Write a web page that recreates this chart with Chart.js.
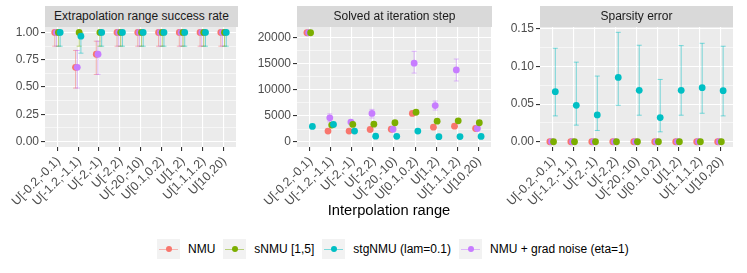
<!DOCTYPE html>
<html>
<head>
<meta charset="utf-8">
<script src="https://cdn.jsdelivr.net/npm/chart.js@4.4.1/dist/chart.umd.min.js"></script>
<style>
  body { margin: 0; width: 747px; height: 273px; background: #fff; position: relative; overflow: hidden;
         font-family: "Liberation Sans", Arial, sans-serif; }
  .strip { position: absolute; top: 6px; height: 21px; background: #d9d9d9; color: #1a1a1a;
           font-size: 12px; line-height: 21px; text-align: center; z-index: 2; }
  canvas { position: absolute; top: 15px; }
  #xtitle { position: absolute; left: 45px; width: 688px; top: 202px; text-align: center; font-size: 14.7px; color: #000; }
  #legend { position: absolute; top: 239px; left: 157px; height: 20px; display: flex; align-items: center;
            font-size: 12px; color: #000; white-space: nowrap; }
  .key { width: 23px; height: 20px; background: #f2f2f2; position: relative; margin-right: 8px; }
  .key .ln { position: absolute; left: 2px; right: 2px; top: 9.5px; height: 1px; opacity: 0.5; }
  .key .pt { position: absolute; left: 8.5px; top: 7px; width: 6px; height: 6px; border-radius: 50%; }
  .lab { margin-right: 8px; }
</style>
</head>
<body>
<div class="strip" style="left:45px;width:193px">Extrapolation range success rate</div>
<div class="strip" style="left:297px;width:195px">Solved at iteration step</div>
<div class="strip" style="left:540px;width:193px">Sparsity error</div>
<canvas id="p1" width="240" height="215" style="left:0px"></canvas>
<canvas id="p2" width="250" height="215" style="left:245px"></canvas>
<canvas id="p3" width="245" height="215" style="left:495px"></canvas>
<div id="xtitle">Interpolation range</div>
<div id="legend"></div>
<script>
const categories = ['U[-0.2,-0.1)', 'U[-1.2,-1.1)', 'U[-2,-1)', 'U[-2,2)', 'U[-20,-10)',
                    'U[0.1,0.2)', 'U[1,2)', 'U[1.1,1.2)', 'U[10,20)'];
const models = ['NMU', 'sNMU [1,5]', 'stgNMU (lam=0.1)', 'NMU + grad noise (eta=1)'];
const colors = ['#F8766D', '#7CAE00', '#00BFC4', '#C77CFF'];
const barColors = ['rgba(248,118,109,0.5)', 'rgba(124,174,0,0.5)', 'rgba(0,191,196,0.5)', 'rgba(199,124,255,0.5)'];
const dodge = [-0.13, 0.045, 0.13, -0.045];
const drawOrder = [2, 1, 3, 0]; // first one ends up on top

// Extrapolation range success rate
const successNMU = [1, 0.68, 0.80, 1, 1, 1, 1, 1, 1];
const successNMULo = [0.874, 0.49, 0.615, 0.874, 0.874, 0.874, 0.874, 0.874, 0.874];
const successNMUHi = [1, 0.835, 0.92, 1, 1, 1, 1, 1, 1];
const successSNMU = [1, 1, 1, 1, 1, 1, 1, 1, 1];
const successSNMULo = [0.874, 0.874, 0.874, 0.874, 0.874, 0.874, 0.874, 0.874, 0.874];
const successSNMUHi = [1, 1, 1, 1, 1, 1, 1, 1, 1];
const successStg = [1, 0.966, 1, 1, 1, 1, 1, 1, 1];
const successStgLo = [0.874, 0.81, 0.874, 0.874, 0.874, 0.874, 0.874, 0.874, 0.874];
const successStgHi = [1, 0.995, 1, 1, 1, 1, 1, 1, 1];
const successNoise = [1, 0.68, 0.80, 1, 1, 1, 1, 1, 1];
const successNoiseLo = [0.874, 0.49, 0.615, 0.874, 0.874, 0.874, 0.874, 0.874, 0.874];
const successNoiseHi = [1, 0.835, 0.92, 1, 1, 1, 1, 1, 1];
const successTicks = [0, 0.25, 0.5, 0.75, 1];
const successMinor = [0.125, 0.375, 0.625, 0.875];

// Solved at iteration step
const stepNMU = [21000, 2100, 2100, 2400, 2450, 5500, 2850, 3050, 2600];
const stepSNMU = [21000, 3250, 3380, 3420, 3700, 5720, 4000, 4080, 3700];
const stepStg = [3000, 3380, 2100, 1120, 1100, 2100, 1030, 1040, 1070];
const stepNoise = [21000, 4650, 3830, 5500, 2450, 15150, 7000, 13860, 2600];
const stepNoiseLo = [null, 3870, 3550, 4600, null, 13250, 6140, 11730, null];
const stepNoiseHi = [null, 5420, 4100, 6270, null, 17430, 7880, 15950, null];
const stepTicks = [0, 5000, 10000, 15000, 20000];
const stepMinor = [2500, 7500, 12500, 17500];

// Sparsity error
const sparseNMU = [0, 0, 0, 0, 0, 0, 0, 0, 0];
const sparseSNMU = [0, 0, 0, 0, 0, 0, 0, 0, 0];
const sparseStg = [0.0666, 0.0485, 0.0357, 0.0856, 0.0684, 0.0322, 0.0684, 0.0719, 0.0679];
const sparseStgLo = [0.0344, 0.0221, 0.0150, 0.0485, 0.0353, 0.0132, 0.0353, 0.0379, 0.0344];
const sparseStgHi = [0.1244, 0.1059, 0.0874, 0.1456, 0.1284, 0.0829, 0.1279, 0.1310, 0.1271];
const sparseNoise = [0, 0, 0, 0, 0, 0, 0, 0, 0];
const sparseTicks = [0, 0.05, 0.10, 0.15];
const sparseMinor = [0.025, 0.075, 0.125];

Chart.defaults.font.family = "'Liberation Sans', Arial, sans-serif";
Chart.defaults.font.size = 12;

const panelBg = {
  id: 'panelBg',
  beforeDraw(chart) {
    const a = chart.chartArea, ctx = chart.ctx;
    ctx.save();
    ctx.fillStyle = '#ebebeb';
    ctx.fillRect(a.left, a.top, a.width, a.height);
    ctx.restore();
  }
};

const errorBars = {
  id: 'errorBars',
  beforeDatasetsDraw(chart) {
    const {ctx, chartArea, scales: {x, y}} = chart;
    ctx.save();
    ctx.beginPath();
    ctx.rect(chartArea.left, chartArea.top, chartArea.width, chartArea.height);
    ctx.clip();
    ctx.lineWidth = 1;
    chart.data.datasets.slice().reverse().forEach(ds => {
      if (!ds.lo) return;
      ctx.strokeStyle = ds.barColor;
      ds.lo.forEach((lo, j) => {
        const hi = ds.hi[j];
        if (lo == null || hi == null) return;
        const px = x.getPixelForValue(j + ds.shift);
        const y1 = y.getPixelForValue(lo), y2 = y.getPixelForValue(hi);
        ctx.beginPath();
        ctx.moveTo(px, y1); ctx.lineTo(px, y2);
        ctx.moveTo(px - 2.5, y1); ctx.lineTo(px + 2.5, y1);
        ctx.moveTo(px - 2.5, y2); ctx.lineTo(px + 2.5, y2);
        ctx.stroke();
      });
    });
    ctx.restore();
  }
};

function makePanel(id, series, yMin, yMax, majors, minors, fmt, yWidth, padRight) {
  const allTicks = majors.concat(minors).sort((a, b) => a - b);
  const isMajor = v => majors.some(m => Math.abs(m - v) < 1e-9);
  const datasets = drawOrder.map(k => ({
    label: models[k],
    data: series[k][0].map((v, j) => ({x: j + dodge[k], y: v})),
    lo: series[k][1], hi: series[k][2], shift: dodge[k], barColor: barColors[k],
    backgroundColor: colors[k], borderWidth: 0, pointRadius: 3.4
  }));
  return new Chart(document.getElementById(id), {
    type: 'scatter',
    data: {datasets},
    options: {
      responsive: false,
      animation: false,
      layout: {padding: {top: 12, right: padRight, bottom: 0, left: 0}},
      plugins: {legend: {display: false}, tooltip: {enabled: false}},
      scales: {
        x: {
          type: 'linear', min: -0.6, max: 8.6,
          afterBuildTicks: s => { s.ticks = categories.map((c, i) => ({value: i})); },
          afterFit: s => { s.height = 83; },
          ticks: {
            callback: (v, i) => categories[i], autoSkip: false,
            maxRotation: 45, minRotation: 45, color: '#4d4d4d',
            padding: 3, labelOffset: 1, font: {size: 12.4}
          },
          grid: {color: '#ffffff', lineWidth: 1.1, tickColor: '#333333', tickLength: 4},
          border: {display: false}
        },
        y: {
          type: 'linear', min: yMin, max: yMax,
          afterBuildTicks: s => { s.ticks = allTicks.map(v => ({value: v})); },
          afterFit: s => { s.width = yWidth; },
          ticks: {
            callback: v => isMajor(v) ? fmt(v) : '', autoSkip: false,
            color: '#4d4d4d', padding: 2
          },
          grid: {
            color: '#ffffff',
            lineWidth: c => isMajor(c.tick.value) ? 1.1 : 0.55,
            tickColor: c => isMajor(c.tick.value) ? '#333333' : 'rgba(0,0,0,0)',
            tickLength: 4
          },
          border: {display: false}
        }
      }
    },
    plugins: [panelBg, errorBars]
  });
}

makePanel('p1', [
  [successNMU, successNMULo, successNMUHi],
  [successSNMU, successSNMULo, successSNMUHi],
  [successStg, successStgLo, successStgHi],
  [successNoise, successNoiseLo, successNoiseHi]
], -0.05, 1.05, successTicks, successMinor, v => v.toFixed(2), 45, 2);

makePanel('p2', [
  [stepNMU, null, null],
  [stepSNMU, null, null],
  [stepStg, null, null],
  [stepNoise, stepNoiseLo, stepNoiseHi]
], -960, 22110, stepTicks, stepMinor, v => String(v), 52, 3);

makePanel('p3', [
  [sparseNMU, null, null],
  [sparseSNMU, null, null],
  [sparseStg, sparseStgLo, sparseStgHi],
  [sparseNoise, null, null]
], -0.0070, 0.1527, sparseTicks, sparseMinor, v => v.toFixed(2), 45, 7);

// legend (ggplot-style keys)
const legend = document.getElementById('legend');
models.forEach((m, k) => {
  const key = document.createElement('div');
  key.className = 'key';
  key.innerHTML = '<div class="ln" style="background:' + colors[k] + '"></div>' +
                  '<div class="pt" style="background:' + colors[k] + '"></div>';
  const lab = document.createElement('span');
  lab.className = 'lab';
  lab.textContent = m;
  legend.appendChild(key);
  legend.appendChild(lab);
});
</script>
</body>
</html>
